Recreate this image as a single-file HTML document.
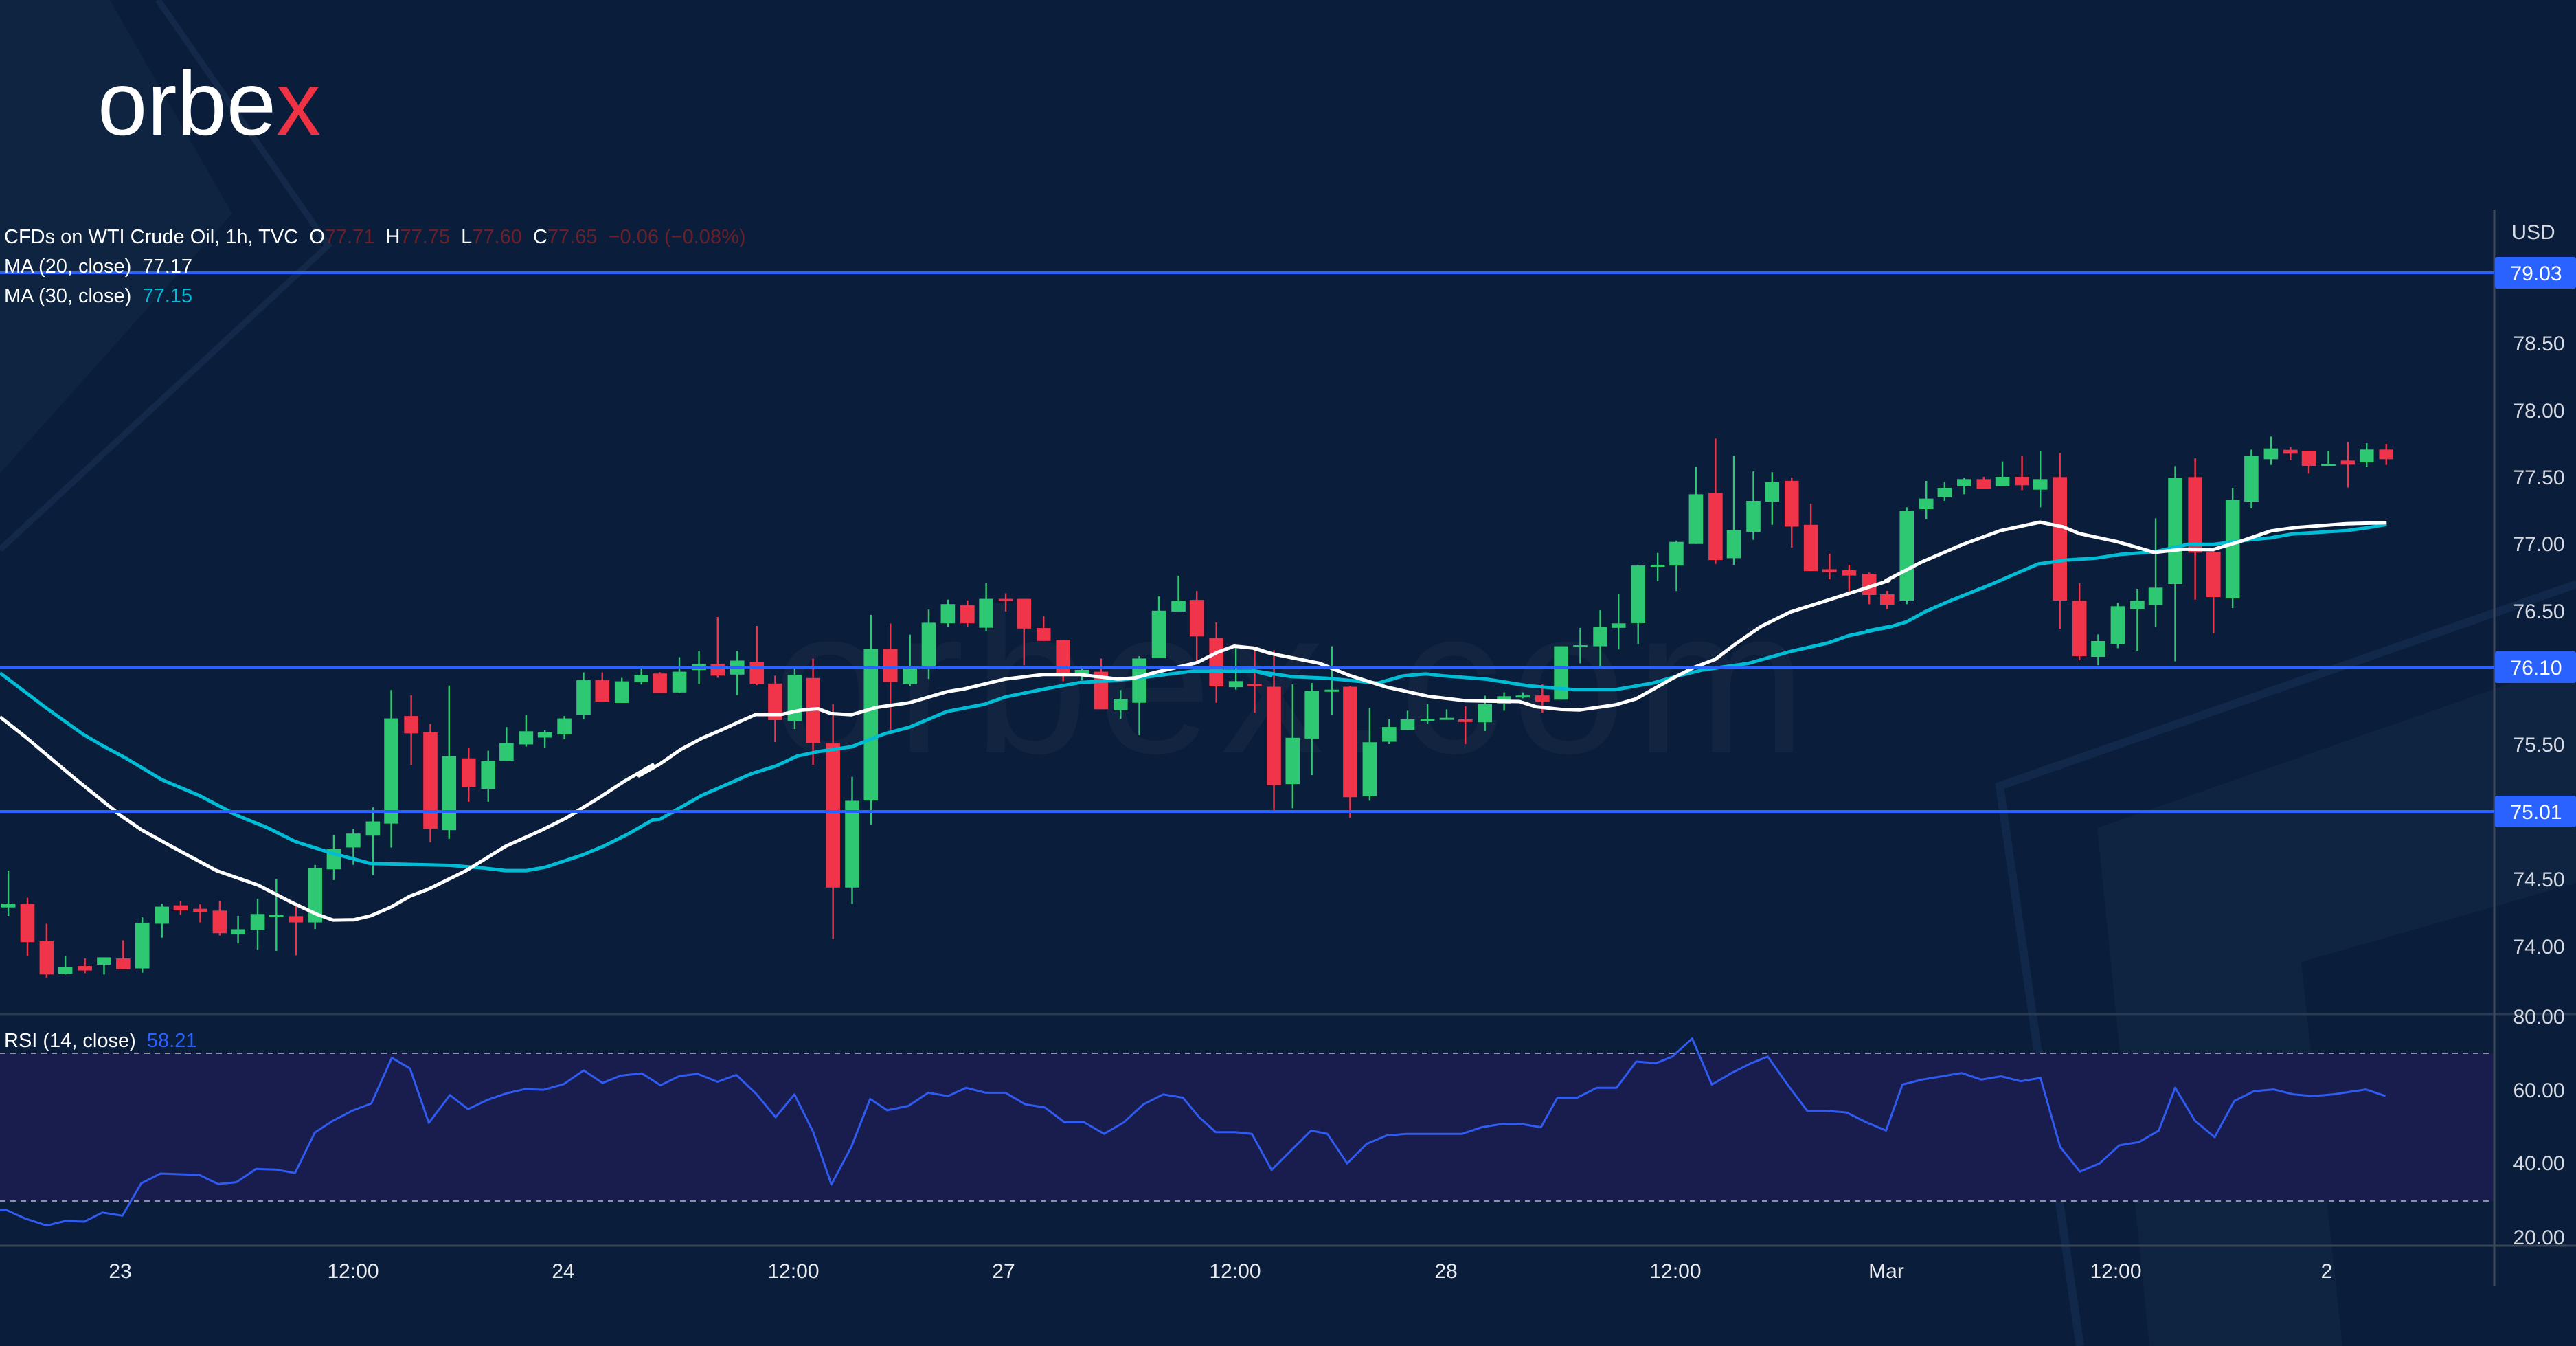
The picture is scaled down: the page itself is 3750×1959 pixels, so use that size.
<!DOCTYPE html>
<html><head><meta charset="utf-8"><style>
html,body{margin:0;padding:0;background:#0a1d3a;}
svg{display:block}
text{font-family:"Liberation Sans",sans-serif;white-space:pre;}
</style></head><body>
<svg id="s" width="3750" height="1959" viewBox="0 0 3750 1959" xmlns="http://www.w3.org/2000/svg" xml:space="preserve">
<rect width="3750" height="1959" fill="#0a1d3a"/>
<polygon points="0,0 160,0 338,311 0,689" fill="#0f2441"/>
<polyline points="230,0 478,357 0,800" fill="none" stroke="#14294a" stroke-width="9"/>
<polygon points="3053,1205 3751,961 3751,1285 3350,1400 3410,1959 3129,1959" fill="#0f2441"/>
<polyline points="3028,1959 2911,1144 3751,850" fill="none" stroke="#12284a" stroke-width="12"/>
<text x="1124" y="1095" font-size="300" fill="#ffffff" fill-opacity="0.035" textLength="1506">orbex.com</text>
<text x="142" y="196" font-size="132" fill="#ffffff" textLength="325" lengthAdjust="spacingAndGlyphs">orbe<tspan fill="#ef3345">x</tspan></text>
<rect x="0" y="1533" width="3631" height="215" fill="#191d4e"/>
<line x1="0" y1="1533" x2="3631" y2="1533" stroke="#8a93a6" stroke-width="2" stroke-dasharray="8,7"/>
<line x1="0" y1="1748" x2="3631" y2="1748" stroke="#8a93a6" stroke-width="2" stroke-dasharray="8,7"/>
<line x1="0" y1="1476" x2="3750" y2="1476" stroke="#2a3a52" stroke-width="3"/>
<line x1="0" y1="1813" x2="3750" y2="1813" stroke="#3a4658" stroke-width="3"/>
<line x1="3631" y1="305" x2="3631" y2="1872" stroke="#3e4a5c" stroke-width="3"/>
<g id="cand"></g>
<g id="ma"></g>
<g id="rsi"></g>
<line x1="0" y1="397" x2="3631" y2="397" stroke="#2962ff" stroke-width="4"/>
<line x1="0" y1="971" x2="3631" y2="971" stroke="#2962ff" stroke-width="4"/>
<line x1="0" y1="1181" x2="3631" y2="1181" stroke="#2962ff" stroke-width="4"/>
<g font-size="30" fill="#d6dae2" text-anchor="middle">
<text x="3688" y="348">USD</text>
<text x="3696" y="510">78.50</text>
<text x="3696" y="608">78.00</text>
<text x="3696" y="705">77.50</text>
<text x="3696" y="802">77.00</text>
<text x="3696" y="900">76.50</text>
<text x="3696" y="1094">75.50</text>
<text x="3696" y="1290">74.50</text>
<text x="3696" y="1388">74.00</text>
<text x="3696" y="1490">80.00</text>
<text x="3696" y="1597">60.00</text>
<text x="3696" y="1703">40.00</text>
<text x="3696" y="1811">20.00</text>
</g>
<rect x="3632" y="374" width="118" height="46" rx="3" fill="#2962ff"/>
<rect x="3632" y="948" width="118" height="46" rx="3" fill="#2962ff"/>
<rect x="3632" y="1158" width="118" height="46" rx="3" fill="#2962ff"/>
<g font-size="30" fill="#ffffff" text-anchor="middle">
<text x="3692" y="408">79.03</text>
<text x="3692" y="982">76.10</text>
<text x="3692" y="1192">75.01</text>
</g>
<g font-size="30" fill="#e8ebf0" text-anchor="middle">
<text x="175" y="1860">23</text>
<text x="514" y="1860">12:00</text>
<text x="820" y="1860">24</text>
<text x="1155" y="1860">12:00</text>
<text x="1461" y="1860">27</text>
<text x="1798" y="1860">12:00</text>
<text x="2105" y="1860">28</text>
<text x="2439" y="1860">12:00</text>
<text x="2746" y="1860">Mar</text>
<text x="3080" y="1860">12:00</text>
<text x="3387" y="1860">2</text>
</g>
<g font-size="29">
<text x="6" y="354" fill="#ffffff">CFDs on WTI Crude Oil, 1h, TVC  O<tspan fill="#6b1f28">77.71</tspan>  H<tspan fill="#6b1f28">77.75</tspan>  L<tspan fill="#6b1f28">77.60</tspan>  C<tspan fill="#6b1f28">77.65</tspan><tspan fill="#6b1f28">  −0.06 (−0.08%)</tspan></text>
<text x="6" y="397" fill="#ffffff">MA (20, close)  77.17</text>
<text x="6" y="440" fill="#ffffff">MA (30, close)  <tspan fill="#00bcd4">77.15</tspan></text>
<text x="6" y="1524" fill="#ffffff">RSI (14, close)  <tspan fill="#2962ff">58.21</tspan></text>
</g>
</svg>
<script>
var NS="http://www.w3.org/2000/svg";
function el(p,n,a){var e=document.createElementNS(NS,n);for(var k in a)e.setAttribute(k,a[k]);p.appendChild(e);return e;}
var T={4:[0,850,.6059,.3827],5:[900,800,.6059,.3827],6:[1800,600,.6059,.3827],7:[2700,600,.6059,1/3]};
var C=[
[4,20,1215,1230,1090,1262,'g'],[4,66,1217,1362,1193,1415,'r'],[4,112,1358,1485,1292,1497,'r'],[4,157,1458,1482,1415,1485,'g'],[4,204,1453,1470,1424,1480,'r'],[4,250,1420,1448,1420,1485,'g'],[4,296,1424,1465,1355,1465,'r'],[4,342,1288,1462,1268,1478,'g'],[4,389,1227,1292,1215,1345,'g'],[4,434,1222,1241,1205,1258,'r'],[4,481,1235,1247,1218,1287,'r'],[4,528,1242,1328,1205,1337,'r'],[4,572,1313,1333,1262,1367,'g'],[4,619,1255,1317,1197,1390,'g'],[4,664,1259,1263,1122,1395,'g'],[4,711,1263,1287,1222,1412,'r'],[4,757,1081,1287,1068,1312,'g'],[4,802,1007,1085,955,1126,'g'],[4,849,949,1002,932,1068,'g'],[4,896,903,957,850,1108,'g'],[4,940,511,911,403,1002,'g'],[4,988,502,568,423,688,'r'],[4,1034,564,931,532,982,'r'],[4,1079,655,936,386,969,'g'],[4,1126,663,771,622,828,'r'],[4,1173,672,779,634,828,'g'],[4,1217,605,672,544,672,'g'],[4,1264,560,610,498,618,'g'],[4,1309,564,584,556,622,'g'],[4,1356,511,572,502,590,'g'],[4,1402,366,497,336,514,'g'],[4,1447,366,447,336,447,'r'],[4,1494,370,452,357,452,'g'],[4,1541,345,373,312,382,'g'],
[5,100,471,545,466,545,'r'],[5,147,464,543,409,546,'g'],[5,194,435,458,384,512,'g'],[5,239,435,479,256,487,'r'],[5,286,422,475,384,553,'g'],[5,333,427,512,290,515,'r'],[5,377,509,648,479,732,'r'],[5,424,476,652,447,682,'g'],[5,468,488,735,414,818,'r'],[5,516,736,1285,587,1480,'r'],[5,562,955,1285,864,1347,'g'],[5,607,377,954,248,1045,'g'],[5,654,377,503,281,684,'r'],[5,701,451,512,323,520,'g'],[5,746,278,454,228,492,'g'],[5,792,207,280,190,293,'g'],[5,839,211,280,193,293,'r'],[5,884,187,297,128,310,'g'],[5,931,187,193,166,235,'r'],[5,975,187,300,187,440,'r'],[5,1022,298,347,253,347,'r'],[5,1069,343,475,343,500,'r'],[5,1114,457,479,449,497,'g'],[5,1160,464,607,414,607,'r'],[5,1207,567,611,534,643,'g'],[5,1252,414,582,405,706,'g'],[5,1299,232,413,178,413,'g'],[5,1346,194,235,99,235,'g'],[5,1390,191,330,157,427,'r'],[5,1437,336,520,277,582,'r'],[5,1484,500,523,368,532,'g'],[5,1529,510,519,382,620,'r'],
[6,90,1044,1418,905,1522,'r'],[6,135,1238,1414,1035,1506,'g'],[6,181,1060,1241,1030,1380,'g'],[6,229,1055,1060,890,1150,'g'],[6,273,1044,1464,1040,1542,'r'],[6,320,1255,1460,1125,1477,'g'],[6,367,1197,1253,1168,1262,'g'],[6,411,1168,1208,1135,1208,'g'],[6,459,1166,1172,1110,1185,'g'],[6,505,1162,1167,1130,1167,'g'],[6,550,1168,1178,1118,1262,'r'],[6,597,1110,1179,1078,1212,'g'],[6,643,1080,1108,1065,1135,'g'],[6,688,1077,1083,1065,1088,'g'],[6,735,1077,1100,1035,1142,'r'],[6,780,890,1093,890,1093,'g'],[6,826,886,893,820,955,'g'],[6,874,816,890,753,968,'g'],[6,918,803,820,690,902,'g'],[6,965,583,802,580,882,'g'],[6,1012,580,587,535,642,'g'],[6,1057,493,583,488,680,'g'],[6,1104,312,501,208,501,'g'],[6,1151,307,562,100,577,'r'],[6,1195,448,555,166,580,'g'],[6,1242,337,455,225,485,'g'],[6,1287,266,340,228,428,'g'],[6,1334,261,435,248,515,'r'],[6,1380,428,604,348,604,'r'],[6,1425,597,608,538,635,'r'],[6,1472,601,621,580,690,'r'],
[7,35,705,798,700,838,'r'],[7,78,795,840,780,860,'r'],[7,125,430,822,415,838,'g'],[7,172,377,423,300,467,'g'],[7,216,330,372,305,387,'g'],[7,263,292,324,287,358,'g'],[7,310,292,334,282,334,'r'],[7,355,282,324,215,324,'g'],[7,402,282,319,192,340,'r'],[7,446,292,338,168,415,'g'],[7,493,283,822,178,945,'r'],[7,540,823,1065,747,1083,'r'],[7,585,999,1068,970,1105,'g'],[7,632,847,1012,832,1030,'g'],[7,679,823,860,771,1041,'g'],[7,723,766,841,463,937,'g'],[7,770,287,750,235,1088,'g'],[7,818,283,613,201,818,'r'],[7,862,610,807,595,965,'r'],[7,908,382,813,330,855,'g'],[7,953,192,390,163,420,'g'],[7,1000,158,205,106,230,'g'],[7,1047,164,181,153,210,'r'],[7,1091,168,234,168,268,'r'],[7,1138,225,230,168,230,'g'],[7,1185,211,229,130,329,'r'],[7,1230,163,219,135,238,'g'],[7,1277,163,205,138,230,'r']];
var g=document.getElementById('cand');
C.forEach(function(c){var t=T[c[0]];var x=t[0]+c[1]*t[2];var Y=function(v){return t[1]+v*t[3];};
var col=c[6]=='g'?'#2ec872':'#f0344a';
el(g,'line',{x1:x,x2:x,y1:Y(c[4]),y2:Y(c[5]),stroke:col,'stroke-width':2.4});
var y1=Y(c[2]),y2=Y(c[3]);if(y2-y1<3)y2=y1+3;
el(g,'rect',{x:x-10.3,y:y1,width:20.6,height:y2-y1,fill:col});});
function pts(z,a){var t=T[z];var s=[];for(var i=0;i<a.length;i+=2)s.push((t[0]+a[i]*t[2]).toFixed(1)+','+(t[1]+a[i+1]*t[3]).toFixed(1));return s;}
var W=pts(4,[0,505,60,580,120,660,180,740,235,810,290,880,340,935,420,1005,520,1090,620,1145,700,1210,760,1255,800,1278,850,1277,890,1262,940,1228,985,1187,1030,1160,1120,1090,1215,997,1300,937,1360,890,1440,812,1500,750,1568,688])
.concat(pts(5,[50,860,100,815,150,760,200,718,250,684,290,655,330,627,390,627,440,610,480,605,510,623,560,628,620,600,700,582,790,540,830,530,930,492,1020,475,1110,475,1200,492,1240,488,1290,467,1390,430,1440,390,1480,367,1530,375,1568,395]))
.concat(pts(6,[40,897,90,920,200,955,270,1000,360,1045,460,1080,550,1097,680,1100,720,1120,780,1130,825,1132,910,1113,960,1090,1050,1010,1100,970,1150,940,1200,880,1260,815,1330,760,1420,715,1490,680,1568,640]))
.concat(pts(7,[75,735,160,655,260,577,350,517,445,480,500,500,540,530,630,565,720,612,790,598,860,600,930,562,1000,518,1060,503,1180,487,1278,482]));
var Cy=pts(4,[0,338,60,410,110,470,200,572,250,618,300,660,390,745,480,805,570,880,640,925,710,980,790,1020,890,1063,1000,1067,1080,1070,1160,1080,1215,1090,1265,1090,1310,1077,1400,1030,1450,997,1510,950,1568,897])
.concat(pts(5,[100,1025,200,935,320,852,380,822,430,785,480,768,560,750,640,700,700,675,790,615,880,588,930,560,1040,525,1110,505,1200,497,1290,480,1380,462,1530,462,1568,478]))
.concat(pts(6,[40,983,130,1005,220,1012,340,1030,400,1003,455,995,500,1003,600,1015,700,1040,810,1055,910,1055,1000,1030,1060,1003,1120,980,1230,955,1330,910,1420,878,1470,850,1520,833,1568,815]))
.concat(pts(7,[30,955,80,940,125,915,170,870,220,830,330,750,440,663,510,645,580,637,640,620,720,610,800,577,860,577,950,557,1000,548,1050,532,1180,517,1230,505,1278,490]));
var m=document.getElementById('ma');
el(m,'polyline',{points:Cy.join(' '),fill:'none',stroke:'#00bcd4','stroke-width':5,'stroke-linejoin':'round'});
el(m,'polyline',{points:W.join(' '),fill:'none',stroke:'#ffffff','stroke-width':5,'stroke-linejoin':'round'});
var R=[0,938,12,938,45,975,82,1005,115,985,148,988,180,948,215,962,248,820,282,777,350,783,383,823,415,815,450,757,485,760,518,775,553,597,585,545,620,500,652,470,688,270,720,317,753,555,790,433,822,495,855,455,890,425,922,407,955,410,990,385,1025,325,1058,380,1090,348,1127,338,1160,390,1193,350,1225,340,1260,375,1293,345,1328,428,1362,530,1395,430,1428,595,1460,825,1495,660,1528,450,1558,500];
var rp=[];for(var i=0;i<R.length;i+=2)rp.push((R[i]*0.829).toFixed(1)+','+(1450+R[i+1]*0.332).toFixed(1));
var P=[553,673,565,665,577,667,588,662,600,665,612,665,624,672,636,674,648,683,660,683,672,690,684,683,696,672,708,666,720,668,730,680,740,689,752,689,762,690,774,712,786,700,798,688,808,690,820,708,832,696,844,691,856,690,868,690,880,690,890,690,902,686,914,684,926,684,938,686,948,668,960,668,972,662,984,662,996,646,1008,647,1018,643,1030,632,1042,660,1054,653,1066,647,1076,643,1088,660,1100,676,1112,676,1124,677,1136,683,1148,688,1158,660,1170,657,1182,655,1194,653,1206,657,1218,655,1230,658,1242,656,1254,698,1266,713,1278,708,1290,697,1302,695,1314,688,1324,662,1336,682,1348,692,1360,670,1372,664,1384,663,1396,666,1408,667,1420,666,1440,663,1452,667];
for(var i=0;i<P.length;i+=2)rp.push((P[i]*2.3916).toFixed(1)+','+(P[i+1]*2.3916).toFixed(1));
el(document.getElementById('rsi'),'polyline',{points:rp.join(' '),fill:'none',stroke:'#2f5bf0','stroke-width':3,'stroke-linejoin':'round'});
</script>
</body></html>
